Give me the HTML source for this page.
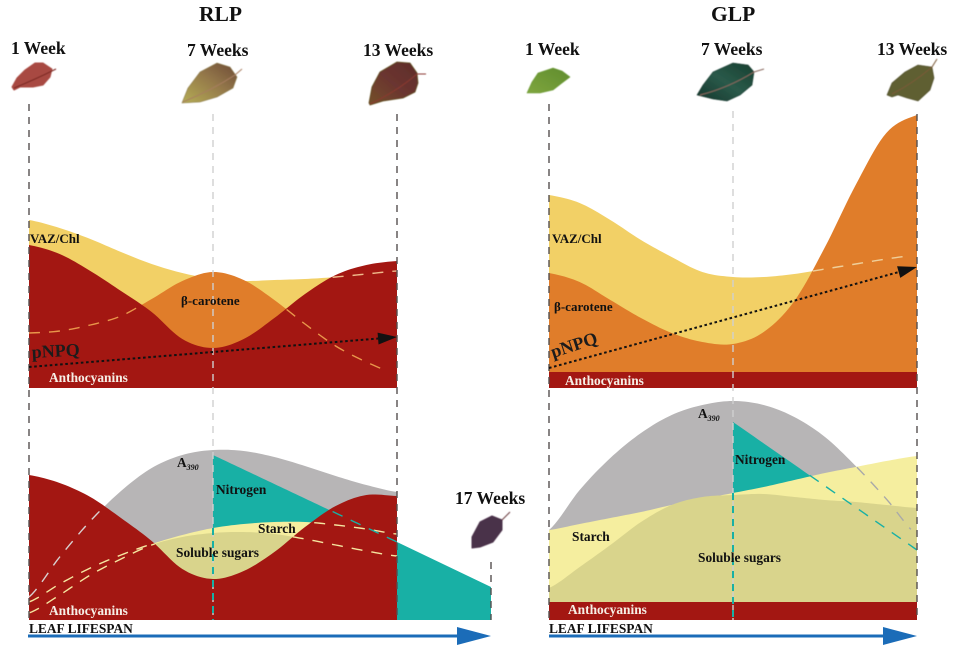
<!DOCTYPE html>
<html lang="en">
<head>
<meta charset="utf-8">
<title>RLP and GLP leaf lifespan diagram</title>
<style>
html,body{margin:0;padding:0;background:#fff;}
svg{display:block;}
text{font-family:"Liberation Serif",serif;font-weight:bold;fill:#111;}
.wk{font-size:17.5px;}
.ttl{font-size:21.5px;}
.lb{font-size:13.4px;}
.wh{font-size:13.4px;fill:#f6efe6;}
.pn{font-size:18px;fill:#1c1c1c;}
</style>
</head>
<body>
<svg id="chart" width="964" height="651" viewBox="0 0 964 651" xmlns="http://www.w3.org/2000/svg">
<defs>
<filter id="soft" x="-5%" y="-5%" width="110%" height="110%"><feGaussianBlur stdDeviation="0.5"/></filter>
<linearGradient id="g7r" x1="0" y1="1" x2="1" y2="0"><stop offset="0" stop-color="#b5ad55"/><stop offset=".55" stop-color="#94784a"/><stop offset="1" stop-color="#6d4a36"/></linearGradient>
<linearGradient id="g13r" x1="0" y1="1" x2="1" y2="0"><stop offset="0" stop-color="#74502a"/><stop offset=".5" stop-color="#6b3530"/><stop offset="1" stop-color="#5e2c2a"/></linearGradient>
<linearGradient id="g1g" x1="0" y1="1" x2="1" y2="0"><stop offset="0" stop-color="#7fa63e"/><stop offset="1" stop-color="#5f8c2e"/></linearGradient>
<linearGradient id="g7g" x1="0" y1="1" x2="1" y2="0"><stop offset="0" stop-color="#14352c"/><stop offset=".5" stop-color="#2a5a4a"/><stop offset="1" stop-color="#173f30"/></linearGradient>
</defs>
<g id="marks"></g>

<g filter="url(#soft)">
<g>
<polygon points="12,87 17,78 25,70 35,63 43,63 52,69 50,77 43,85 33,87 20,87 14,90" fill="#a84a42" stroke="#a84a42" stroke-linejoin="round"/>
<path d="M14 88 Q34 80 56 69" stroke="#7a2620" stroke-width="1" fill="none"/>
</g>
<g>
<polygon points="182,103 188,88 200,72 217,63 230,67 237,77 233,88 217,97 200,102" fill="url(#g7r)" stroke="#8a7a4a" stroke-width=".6" stroke-linejoin="round"/>
<path d="M183 102 Q212 90 235 75 L242 69" stroke="#a87d60" stroke-width="1" fill="none"/>
</g>
<g>
<polygon points="369,103 372,87 380,72 397,62 410,63 417,73 418,83 415,92 403,98 383,101 370,105" fill="url(#g13r)" stroke="#5d4a1e" stroke-width=".8" stroke-linejoin="round"/>
<path d="M370 104 Q396 92 417 74 L426 74" stroke="#8a3a30" stroke-width="1" fill="none"/>
</g>
<g>
<polygon points="472,548 472,537 480,522 492,516 502,520 502,530 493,542 480,547" fill="#4a3048" stroke="#4a3048" stroke-linejoin="round"/>
<path d="M502 520 L510 512" stroke="#6b3a40" stroke-width="1" fill="none"/>
</g>
<g>
<polygon points="527,93 532,82 538,73 553,68 562,71 570,77 562,83 553,90 540,93" fill="url(#g1g)" stroke="#6a9a35" stroke-width=".6" stroke-linejoin="round"/>
</g>
<g>
<polygon points="697,95 703,85 713,72 733,63 748,65 754,72 752,85 740,95 727,101 713,99" fill="url(#g7g)" stroke="#14352c" stroke-width=".6" stroke-linejoin="round"/>
<path d="M700 95 Q728 88 754 72 L764 69" stroke="#8a6a60" stroke-width="1" fill="none"/>
</g>
<g>
<polygon points="887,95 892,83 905,72 918,65 932,67 934,78 930,90 918,101 907,98 898,95 892,97" fill="#5f5f33" stroke="#4c4a28" stroke-width=".6" stroke-linejoin="round"/>
<path d="M892 94 Q912 84 932 67 L937 59" stroke="#7a5a38" stroke-width="1" fill="none"/>
</g>
</g>

<g>
<rect x="28" y="634.5" width="432" height="3" fill="#1b6cb8"/>
<polygon points="457,627 491,636 457,645" fill="#1b6cb8"/>
</g>
<g>
<rect x="549" y="634.5" width="337" height="3" fill="#1b6cb8"/>
<polygon points="883,627 917,636 883,645" fill="#1b6cb8"/>
</g>

<g>
<text class="ttl" x="199" y="21">RLP</text>
<text class="ttl" x="711" y="21">GLP</text>
<text class="wk" x="11" y="54">1 Week</text>
<text class="wk" x="187" y="56">7 Weeks</text>
<text class="wk" x="363" y="56">13 Weeks</text>
<text class="wk" x="455" y="504">17 Weeks</text>
<text class="wk" x="525" y="55">1 Week</text>
<text class="wk" x="701" y="55">7 Weeks</text>
<text class="wk" x="877" y="55">13 Weeks</text>

<text class="lb" style="font-size:13px" x="30" y="243">VAZ/Chl</text>
<text class="lb" style="font-size:13px" x="181" y="305">β-carotene</text>
<text class="pn" x="32" y="358" transform="rotate(-3 32 358)">pNPQ</text>
<text class="wh" x="49" y="382">Anthocyanins</text>
<text class="lb" x="177" y="467">A<tspan font-size="8" font-style="italic" dy="3">390</tspan></text>
<text class="lb" x="216" y="494">Nitrogen</text>
<text class="lb" x="258" y="533">Starch</text>
<text class="lb" x="176" y="557">Soluble sugars</text>
<text class="wh" x="49" y="615">Anthocyanins</text>
<text class="lb" x="29" y="633">LEAF LIFESPAN</text>

<text class="lb" style="font-size:13px" x="552" y="243">VAZ/Chl</text>
<text class="lb" style="font-size:13px" x="554" y="311">β-carotene</text>
<text class="pn" x="553" y="358" transform="rotate(-18 553 358)">pNPQ</text>
<text class="wh" x="565" y="385">Anthocyanins</text>
<text class="lb" x="698" y="418">A<tspan font-size="8" font-style="italic" dy="3">390</tspan></text>
<text class="lb" x="735" y="464">Nitrogen</text>
<text class="lb" x="572" y="541">Starch</text>
<text class="lb" x="698" y="562">Soluble sugars</text>
<text class="wh" x="568" y="614">Anthocyanins</text>
<text class="lb" x="549" y="633">LEAF LIFESPAN</text>
</g>
</svg>

<script>
// Sampling weeks shared by all curves
const weeks = [1,2,3,4,5,6,7,8,9,10,11,12,13];

// RLP, upper panel (relative levels)
const rlpVaz = [84,80,74.5,68,62,57.5,54.5,53.5,54,54.5,55.5,57,58.5];
const rlpBeta = [27.5,28.5,31.5,36,44.5,53.5,58,54,44,32,21,13,7];
const rlpAnthoUpper = [71.5,67,58.5,48.5,38,24.5,20,24.5,35,47,56.5,61.5,63.5];
const rlpPnpq = [10.5,25.5];

// RLP, lower panel
const rlpA390 = [11.5,31.5,49.5,64.5,76,82.5,85,84.5,81.5,77,72,67.5,64];
const rlpNitrogenWeeks = [7,13,17];
const rlpNitrogen = [82.5,39,16.5];
const rlpStarch = [9,18,26,32.5,38,42.5,46,48,49,49,47.5,45.5,43];
const rlpSugars = [3.5,12.5,22.5,30.5,37.5,41.5,43.5,44,43,40.5,37.5,34.5,32];
const rlpAnthoLower = [72.5,68.5,61.5,51,39.5,25.5,20.5,24.5,34,46.5,57,62.5,62];

// GLP, upper panel
const glpVaz = [96.5,92.5,84,74,65.5,58,55.5,55.5,57,59.5,62,64.5,66.5];
const glpBeta = [57.5,53,44,35,27.5,23,22,28,43.5,70.5,101.5,127.5,136.5];
const glpAnthoUpper = [8,8,8,8,8,8,8,8,8,8,8,8,8];
const glpPnpq = [10,60.5];

// GLP, lower panel
const glpA390 = [45,65,81,93.5,102.5,107.5,109.5,107.5,101.5,91.5,77,60.5,42.5];
const glpNitrogenWeeks = [7,13];
const glpNitrogen = [99,35];
const glpStarch = [45,48,51,54,57.5,60.5,63.5,66.5,70,73.5,76.5,79.5,82];
const glpSugars = [16,26.5,37.5,49,57.5,61.5,62.5,63,61.5,60,59,57.5,56];
const glpAnthoLower = [9,9,9,9,9,9,9,9,9,9,9,9,9];

// Week labels used as guide lines
const guideWeeks = [1,7,13];
const trendWeeks = [1,13];

const NS = 'http://www.w3.org/2000/svg';
const root = document.getElementById('marks');
const UPPER_BASE = 388, LOWER_BASE = 620, UNIT = 2;

function weekScale(domain, range) {
  return function (w) {
    for (let i = 0; i < domain.length - 1; i++) {
      if (w <= domain[i + 1] || i === domain.length - 2) {
        return range[i] + (w - domain[i]) * (range[i + 1] - range[i]) / (domain[i + 1] - domain[i]);
      }
    }
    return range[0];
  };
}
const rlpX = weekScale([1,7,13,17], [29,213,397,491]);
const glpX = weekScale([1,7,13], [549,733,917]);
function levelScale(base) { return function (v) { return base - v * UNIT; }; }
const yUpper = levelScale(UPPER_BASE);
const yLower = levelScale(LOWER_BASE);

// Catmull-Rom evaluation through the sampled values; short series stay straight
function curve(ws, vs) {
  return function (w) {
    let i = 0;
    while (i < ws.length - 2 && w > ws[i + 1]) i++;
    const p1 = vs[i], p2 = vs[i + 1];
    const t = (w - ws[i]) / (ws[i + 1] - ws[i]);
    if (ws.length <= 3) return p1 + (p2 - p1) * t;
    const p0 = i > 0 ? vs[i - 1] : p1 - 0.3 * (p2 - p1);
    const p3 = i < vs.length - 2 ? vs[i + 2] : p2 + 0.3 * (p2 - p1);
    return 0.5 * (2 * p1 + (p2 - p0) * t + (2 * p0 - 5 * p1 + 4 * p2 - p3) * t * t + (3 * p1 - p0 - 3 * p2 + p3) * t * t * t);
  };
}
function samplePoints(ws, vs, from, to, xs, ys) {
  const f = curve(ws, vs), pts = [];
  for (let w = from; w < to; w += 0.1) {
    pts.push(xs(w).toFixed(2) + ' ' + ys(f(w)).toFixed(2));
  }
  pts.push(xs(to).toFixed(2) + ' ' + ys(f(to)).toFixed(2));
  return pts;
}
function addArea(name, ws, vs, xs, ys, color) {
  const from = ws[0], to = ws[ws.length - 1];
  const pts = samplePoints(ws, vs, from, to, xs, ys);
  const el = document.createElementNS(NS, 'path');
  el.setAttribute('d', 'M' + xs(from) + ' ' + ys(0) + ' L' + pts.join(' L') + ' L' + xs(to) + ' ' + ys(0) + 'Z');
  el.setAttribute('fill', color);
  
  
  root.appendChild(el);
}
function addDashed(name, ws, vs, from, to, xs, ys, color) {
  const pts = samplePoints(ws, vs, from, to, xs, ys);
  const el = document.createElementNS(NS, 'path');
  el.setAttribute('d', 'M' + pts.join(' L'));
  el.setAttribute('fill', 'none');
  el.setAttribute('stroke', color);
  el.setAttribute('stroke-width', '1.4');
  el.setAttribute('stroke-dasharray', '11 9');
  
  
  root.appendChild(el);
}
function addGuide(name, x, y1, y2, color, width) {
  const el = document.createElementNS(NS, 'line');
  el.setAttribute('x1', x);
  el.setAttribute('x2', x);
  el.setAttribute('y1', y1);
  el.setAttribute('y2', y2);
  el.setAttribute('stroke', color);
  el.setAttribute('stroke-width', width);
  el.setAttribute('stroke-dasharray', '7 6');
  
  
  root.appendChild(el);
}
function addTrend(name, vals, xs, ys) {
  const x1 = xs(trendWeeks[0]), x2 = xs(trendWeeks[1]);
  const y1 = ys(vals[0]), y2 = ys(vals[1]);
  const a = Math.atan2(y2 - y1, x2 - x1), L = 19, H = 6;
  const bx = x2 - L * Math.cos(a), by = y2 - L * Math.sin(a);
  const line = document.createElementNS(NS, 'line');
  line.setAttribute('x1', x1);
  line.setAttribute('y1', y1);
  line.setAttribute('x2', bx);
  line.setAttribute('y2', by);
  line.setAttribute('stroke', '#111');
  line.setAttribute('stroke-width', '2');
  line.setAttribute('stroke-dasharray', '2.6 2.6');
  
  
  root.appendChild(line);
  const head = document.createElementNS(NS, 'polygon');
  head.setAttribute('points', [x2, y2, bx + H * Math.sin(a), by - H * Math.cos(a), bx - H * Math.sin(a), by + H * Math.cos(a)].join(' '));
  head.setAttribute('fill', '#111');
  
  
  root.appendChild(head);
}

const RED = '#a31712', VAZ = '#f2d066', ORANGE = '#e07d2a', GRAY = '#b7b5b6', TEAL = '#18b0a5', STARCH = '#f5ee9f', SUGAR = '#d9d48c';

// RLP upper panel
addArea('rlp-vaz-chl-area', weeks, rlpVaz, rlpX, yUpper, VAZ);
addArea('rlp-beta-carotene-area', weeks, rlpBeta, rlpX, yUpper, ORANGE);
addArea('rlp-anthocyanins-upper-area', weeks, rlpAnthoUpper, rlpX, yUpper, RED);
addDashed('rlp-vaz-chl-dashed', weeks, rlpVaz, 10.9, 13, rlpX, yUpper, '#efb98a');
addDashed('rlp-beta-carotene-dashed-left', weeks, rlpBeta, 1, 4.7, rlpX, yUpper, '#e8964a');
addDashed('rlp-beta-carotene-dashed-right', weeks, rlpBeta, 9.4, 12.7, rlpX, yUpper, '#e8964a');

// RLP lower panel
addArea('rlp-a390-area', weeks, rlpA390, rlpX, yLower, GRAY);
addArea('rlp-nitrogen-area', rlpNitrogenWeeks, rlpNitrogen, rlpX, yLower, TEAL);
addArea('rlp-starch-area', weeks, rlpStarch, rlpX, yLower, STARCH);
addArea('rlp-soluble-sugars-area', weeks, rlpSugars, rlpX, yLower, SUGAR);
addArea('rlp-anthocyanins-lower-area', weeks, rlpAnthoLower, rlpX, yLower, RED);
addDashed('rlp-a390-dashed', weeks, rlpA390, 1, 3.5, rlpX, yLower, '#d8d0d0');
addDashed('rlp-starch-dashed-left', weeks, rlpStarch, 1, 5.1, rlpX, yLower, '#f5e6a0');
addDashed('rlp-starch-dashed-right', weeks, rlpStarch, 10.3, 13, rlpX, yLower, '#f5e6a0');
addDashed('rlp-sugars-dashed-left', weeks, rlpSugars, 1, 5.1, rlpX, yLower, '#f5e6a0');
addDashed('rlp-sugars-dashed-right', weeks, rlpSugars, 9.6, 13, rlpX, yLower, '#f5e6a0');
addDashed('rlp-nitrogen-dashed', rlpNitrogenWeeks, rlpNitrogen, 10.9, 13, rlpX, yLower, TEAL);

// GLP upper panel
addArea('glp-vaz-chl-area', weeks, glpVaz, glpX, yUpper, VAZ);
addArea('glp-beta-carotene-area', weeks, glpBeta, glpX, yUpper, ORANGE);
addArea('glp-anthocyanins-upper-area', weeks, glpAnthoUpper, glpX, yUpper, RED);
addDashed('glp-vaz-chl-dashed', weeks, glpVaz, 9.6, 12.7, glpX, yUpper, '#efcf9a');

// GLP lower panel
addArea('glp-a390-area', weeks, glpA390, glpX, yLower, GRAY);
addArea('glp-nitrogen-area', glpNitrogenWeeks, glpNitrogen, glpX, yLower, TEAL);
addArea('glp-starch-area', weeks, glpStarch, glpX, yLower, STARCH);
addArea('glp-soluble-sugars-area', weeks, glpSugars, glpX, yLower, SUGAR);
addArea('glp-anthocyanins-lower-area', weeks, glpAnthoLower, glpX, yLower, RED);
addDashed('glp-a390-dashed', weeks, glpA390, 11.04, 12.8, glpX, yLower, '#a9a9a9');
addDashed('glp-nitrogen-dashed', glpNitrogenWeeks, glpNitrogen, 9.5, 13, glpX, yLower, TEAL);

// Week guide lines
guideWeeks.forEach(function (w, i) {
  const color = i === 1 ? '#cfcfcf' : '#55504f';
  const width = 1.4;
  addGuide('rlp-guide-week-' + w, rlpX(w), i === 0 ? 104 : 114, LOWER_BASE, color, width);
  addGuide('glp-guide-week-' + w, glpX(w), i === 0 ? 104 : (i === 1 ? 111 : 114), LOWER_BASE, color, width);
});
addGuide('rlp-guide-week-17', rlpX(17), 562, LOWER_BASE, '#55504f', 1.4);
addGuide('rlp-nitrogen-guide-week-7', rlpX(7), yLower(rlpStarch[6]), LOWER_BASE, TEAL, 2);
addGuide('glp-nitrogen-guide-week-7', glpX(7), yLower(glpStarch[6]), LOWER_BASE, TEAL, 2);

// pNPQ trend arrows
addTrend('rlp-pnpq-trend', rlpPnpq, rlpX, yUpper);
addTrend('glp-pnpq-trend', glpPnpq, glpX, yUpper);
</script>
</body>
</html>
